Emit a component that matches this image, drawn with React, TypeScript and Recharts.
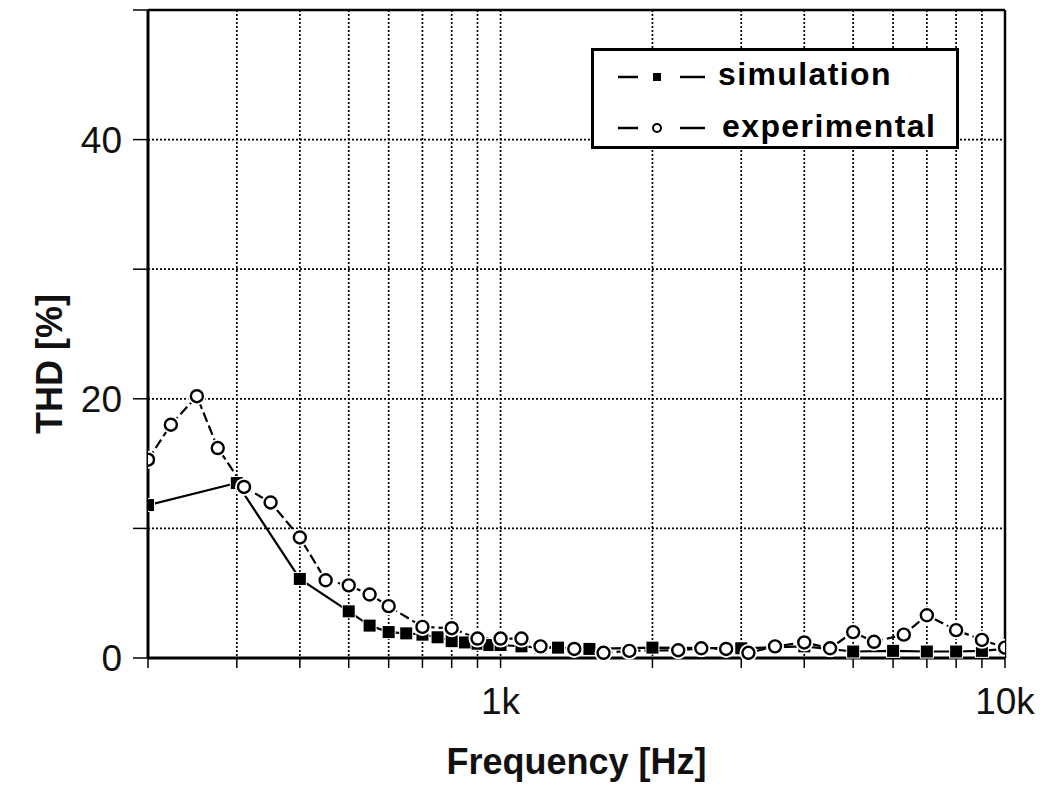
import { LineChart, Line, XAxis, YAxis, CartesianGrid, ReferenceLine, Legend, Label } from "recharts"

// simulation (filled squares)
const simFreq = [200, 300, 400, 500, 550, 600, 650, 700, 750, 800, 850, 900, 950, 1000, 1100, 1200, 1300, 1400, 1500, 2000, 3000, 4000, 5000, 6000, 7000, 8000, 9000, 10000]
const simThd = [11.8, 13.5, 6.1, 3.6, 2.5, 2.0, 1.9, 1.8, 1.6, 1.3, 1.2, 1.1, 1.0, 1.0, 0.9, 0.8, 0.8, 0.7, 0.7, 0.8, 0.75, 0.9, 0.5, 0.55, 0.5, 0.5, 0.55, 0.7]

// experimental (open circles)
const expFreq = [200, 222, 250, 275, 310, 350, 400, 450, 500, 550, 600, 700, 800, 900, 1000, 1100, 1200, 1400, 1600, 1800, 2250, 2500, 2800, 3100, 3500, 4000, 4500, 5000, 5500, 6300, 7000, 8000, 9000, 10000]
const expThd = [15.3, 18.0, 20.2, 16.2, 13.2, 12.0, 9.3, 6.0, 5.6, 4.9, 4.0, 2.4, 2.3, 1.5, 1.5, 1.5, 0.9, 0.7, 0.4, 0.55, 0.6, 0.75, 0.7, 0.4, 0.9, 1.2, 0.75, 2.0, 1.25, 1.8, 3.3, 2.15, 1.4, 0.8]

const freqTicks = [200, 300, 400, 500, 600, 700, 800, 900, 1000, 2000, 3000, 4000, 5000, 6000, 7000, 8000, 9000, 10000]
const freqLabels: Record<number, string> = { 1000: "1k", 10000: "10k" }
const thdTicks = [0, 10, 20, 30, 40, 50]
const thdLabels = [0, 20, 40]

const simData = simFreq.map((f, i) => ({ f, thd: simThd[i] }))
const expData = expFreq.map((f, i) => ({ f, thd: expThd[i] }))

const FONT = "'Liberation Sans', Arial, sans-serif"

function SquareDot(props: any) {
  const { cx, cy } = props
  if (cx == null || cy == null) return null
  return (
    <g>
      <rect x={cx - 7} y={cy - 7} width={14} height={14} fill="#fff" />
      <rect x={cx - 6} y={cy - 6} width={12} height={12} fill="#000" />
    </g>
  )
}

function CircleDot(props: any) {
  const { cx, cy } = props
  if (cx == null || cy == null) return null
  return (
    <g>
      <circle cx={cx} cy={cy} r={9} fill="#fff" />
      <circle cx={cx} cy={cy} r={6} fill="#fff" stroke="#000" strokeWidth={2.4} />
    </g>
  )
}

function LegendBox() {
  return (
    <svg width={368} height={101} style={{ display: "block" }}>
      <rect x={1.5} y={1.5} width={365} height={98} fill="#fff" stroke="#000" strokeWidth={3} />
      <line x1={27} y1={29} x2={47} y2={29} stroke="#000" strokeWidth={2.5} />
      <rect x={62} y={25} width={8} height={8} fill="#000" />
      <line x1={89} y1={29} x2={114} y2={29} stroke="#000" strokeWidth={2.5} />
      <text x={127} y={37} fontFamily={FONT} fontSize={32} fontWeight={700} letterSpacing={1.4} fill="#000">
        simulation
      </text>
      <line x1={27} y1={80} x2={47} y2={80} stroke="#000" strokeWidth={2.5} />
      <circle cx={66} cy={80} r={4} fill="#fff" stroke="#000" strokeWidth={2} />
      <line x1={89} y1={80} x2={114} y2={80} stroke="#000" strokeWidth={2.5} />
      <text x={131} y={89} fontFamily={FONT} fontSize={32} fontWeight={700} letterSpacing={1.4} fill="#000">
        experimental
      </text>
    </svg>
  )
}

export default function App() {
  return (
    <div style={{ position: "absolute", left: 0, top: 0, width: 1059, height: 787, background: "#fff" }}>
      <LineChart width={1059} height={787} margin={{ top: 10, right: 54, left: 0, bottom: 0 }}>
        <CartesianGrid stroke="#000" strokeWidth={1.7} strokeDasharray="2 2" />
        <XAxis
          dataKey="f"
          type="number"
          scale="log"
          domain={[200, 10000]}
          allowDataOverflow
          ticks={freqTicks}
          interval={0}
          tickFormatter={(v: number) => freqLabels[v] ?? ""}
          height={129}
          tickSize={10}
          tickMargin={20}
          axisLine={{ stroke: "#000", strokeWidth: 3 }}
          tickLine={{ stroke: "#000", strokeWidth: 1.5 }}
          tick={{ fontSize: 37, fill: "#111", fontFamily: FONT }}
        >
          <Label
            value="Frequency [Hz]"
            position="insideBottom"
            offset={13}
            style={{ fontSize: 36, fontWeight: 700, fill: "#111", fontFamily: FONT }}
          />
        </XAxis>
        <YAxis
          type="number"
          domain={[0, 50]}
          ticks={thdTicks}
          interval={0}
          tickFormatter={(v: number) => (thdLabels.includes(v) ? String(v) : "")}
          width={148}
          tickSize={15}
          tickMargin={11}
          axisLine={{ stroke: "#000", strokeWidth: 3 }}
          tickLine={{ stroke: "#000", strokeWidth: 1.5 }}
          tick={{ fontSize: 37, fill: "#111", fontFamily: FONT }}
        >
          <Label
            content={() => (
              <text
                x={62}
                y={364}
                transform="rotate(-90 62 364)"
                textAnchor="middle"
                fontFamily={FONT}
                fontSize={36}
                fontWeight={700}
                fill="#111"
              >
                THD [%]
              </text>
            )}
          />
        </YAxis>
        <ReferenceLine y={50} stroke="#000" strokeWidth={2.5} />
        <ReferenceLine x={10000} stroke="#000" strokeWidth={2.5} />
        <Line
          data={simData}
          dataKey="thd"
          name="simulation"
          stroke="#000"
          strokeWidth={2.2}
          dot={<SquareDot />}
          activeDot={false}
          isAnimationActive={false}
        />
        <Line
          data={expData}
          dataKey="thd"
          name="experimental"
          stroke="#000"
          strokeWidth={2.2}
          strokeDasharray="10 4"
          dot={<CircleDot />}
          activeDot={false}
          isAnimationActive={false}
        />
        <Legend
          verticalAlign="middle"
          layout="horizontal"
          align="center"
          wrapperStyle={{ left: 591, top: 48, width: 368, height: 101 }}
          content={() => <LegendBox />}
        />
      </LineChart>
    </div>
  )
}
